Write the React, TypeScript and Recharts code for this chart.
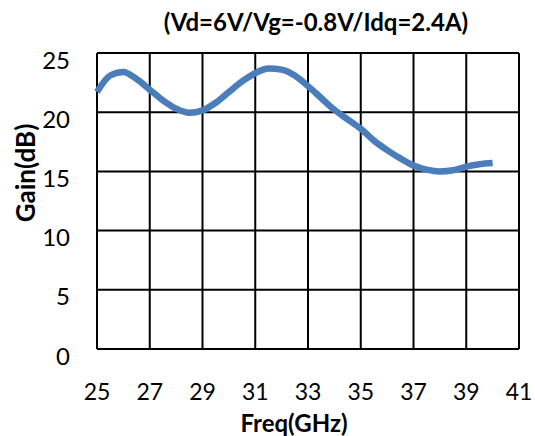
import React from "react";
import { LineChart, Line, XAxis, YAxis, CartesianGrid, Label } from "recharts";

const freqGHz = [25, 25.5, 26, 26.5, 27, 27.5, 28, 28.5, 29, 29.5, 30, 30.5, 31, 31.5, 32, 32.5, 33, 33.5, 34, 34.5, 35, 35.5, 36, 36.5, 37, 37.5, 38, 38.5, 39, 39.5, 40];
const gainDb = [21.7, 23.1, 23.4, 22.8, 21.9, 21.0, 20.3, 19.95, 20.15, 20.8, 21.7, 22.6, 23.3, 23.7, 23.6, 23.1, 22.2, 21.2, 20.2, 19.4, 18.6, 17.6, 16.8, 16.1, 15.5, 15.15, 15.0, 15.1, 15.4, 15.6, 15.7];
const xTicks = [25, 27, 29, 31, 33, 35, 37, 39, 41];
const yTicks = [0, 5, 10, 15, 20, 25];
const title = "(Vd=6V/Vg=-0.8V/Idq=2.4A)";

const data = freqGHz.map((f, i) => ({ f, g: gainDb[i] }));

const FONT = "Lato, 'Open Sans', sans-serif";

export default function App() {
  return (
    <div style={{ position: "absolute", left: 0, top: 0, width: 535, height: 436, background: "#fff" }}>
      <div
        style={{
          position: "absolute",
          left: 0,
          width: 632,
          top: 8,
          textAlign: "center",
          fontFamily: FONT,
          fontWeight: 700,
          fontSize: 24,
          color: "#000",
          lineHeight: "28px",
        }}
      >
        {title}
      </div>
      <LineChart width={535} height={436} data={data} margin={{ top: 53, right: 16, bottom: 27, left: 0 }}>
        <CartesianGrid stroke="#000" strokeWidth={2} strokeOpacity={1} horizontalValues={yTicks} verticalValues={xTicks} />
        <XAxis
          dataKey="f"
          type="number"
          domain={[25, 41]}
          ticks={xTicks}
          axisLine={false}
          tickLine={false}
          tickSize={0}
          tickMargin={35}
          height={60}
          interval={0}
          tick={{ fill: "#000", fontSize: 23, fontFamily: FONT }}
        >
          <Label
            content={() => (
              <text x={294} y={432} textAnchor="middle" fontFamily={FONT} fontWeight={700} fontSize={24} fill="#000">
                Freq(GHz)
              </text>
            )}
          />
        </XAxis>
        <YAxis
          type="number"
          domain={[0, 25]}
          ticks={yTicks}
          axisLine={false}
          tickLine={false}
          tickSize={0}
          tickMargin={27}
          width={97}
          interval={0}
          tick={{ fill: "#000", fontSize: 24, fontFamily: FONT, dy: 7 }}
        >
          <Label
            content={() => (
              <text
                x={35}
                y={173}
                textAnchor="middle"
                transform="rotate(-90 35 173)"
                fontFamily={FONT}
                fontWeight={700}
                fontSize={26}
                fill="#000"
              >
                Gain(dB)
              </text>
            )}
          />
        </YAxis>
        <Line
          dataKey="g"
          type="monotone"
          stroke="#4a7ebb"
          strokeWidth={6.5}
          dot={false}
          activeDot={false}
          isAnimationActive={false}
        />
      </LineChart>
    </div>
  );
}
